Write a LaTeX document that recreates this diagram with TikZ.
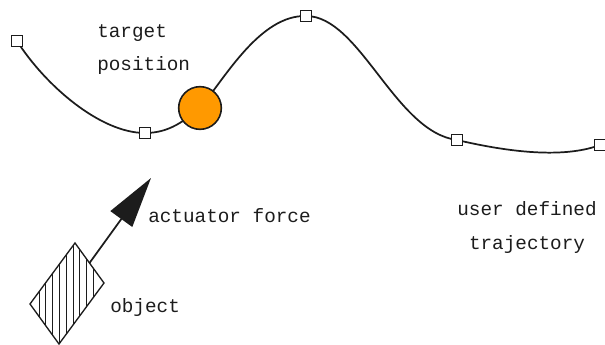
\documentclass[tikz,border=0pt]{standalone}
\usepackage{fontspec}
\setmonofont{Liberation Mono}
\usepackage{tikz}
\usetikzlibrary{arrows.meta,calc}
\definecolor{ink}{HTML}{1C1C1C}
\definecolor{blob}{HTML}{FF9900}

\begin{document}
\begin{tikzpicture}[x=0.75pt, y=-0.75pt, >={Triangle[length=38pt, width=20pt]},
  wp/.style={draw=ink, line width=1.1pt, fill=white, minimum size=8.5pt, inner sep=0pt},
  trj/.style={draw=ink, line width=1.3pt},
  lbl/.style={font=\fontsize{14.5}{25}\selectfont\ttfamily, text=ink, inner sep=0pt},
  hatch/.style={draw=ink, line width=0.7pt}]
\useasboundingbox (0,0) rectangle (605,345);
% trajectory through the waypoints
\foreach \n/\x/\y in {w1/17/41, w2/145/133, w3/306/16, w4/457/140, w5/600/145}
  \coordinate (\n) at (\x,\y);
\coordinate (tc) at (200,108);
\draw[trj] (w1) .. controls (45,85) and (100,133) .. (w2)
  .. controls (170,133) and (185,120) .. (tc)
  .. controls (225,78) and (260,15) .. (w3)
  .. controls (360,16) and (395,132) .. (w4)
  .. controls (500,150) and (560,160) .. (w5);
\foreach \n in {w1,w2,w3,w4,w5}
  \node[wp] (sq-\n) at (\n) {};
\node[circle, draw=ink, line width=1.2pt, fill=blob, minimum size=32pt, inner sep=0pt] (tgt) at (tc) {};
% object with hatching
\coordinate (o1) at (75,243);
\coordinate (o2) at (104,283);
\coordinate (o3) at (59,344);
\coordinate (o4) at (30,304);
\begin{scope}
  \clip (o1) -- (o2) -- (o3) -- (o4) -- cycle;
  \foreach \x in {39,45.8,...,100}
    \draw[hatch] (\x,230) -- (\x,345);
\end{scope}
\draw[ink, line width=1pt, line join=miter] (o1) -- (o2) -- (o3) -- (o4) -- cycle;
\coordinate (base) at ($(o1)!0.5!(o2)$);
\coordinate (tip) at (151,178);
\draw[->, ink, line width=1.3pt] (base) -- (tip);
% labels
\node[lbl, align=left, anchor=base west] (tpos) at (97,71) {target\\position};
\node[lbl, anchor=base west] (force) at (148,222) {actuator force};
\node[lbl, align=center, anchor=base] (traj) at (527,249) {user defined\\trajectory};
\node[lbl, anchor=base west] (olbl) at (110,312) {object};
\end{tikzpicture}
\end{document}
